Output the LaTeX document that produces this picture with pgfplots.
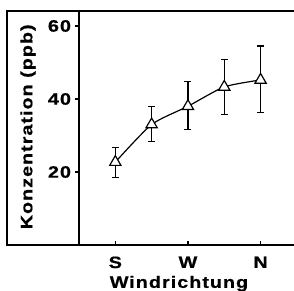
\documentclass[border=0pt]{standalone}
\usepackage{fontspec}
\usepackage{pgfplots}
\usepackage{pgfplotstable}
\pgfplotsset{compat=1.18}
\newfontfamily\lab[FakeStretch=1.2,LetterSpace=6,FakeBold=0.6]{Liberation Sans}
\newcommand{\labfont}{\lab\bfseries\fontsize{16.5}{19}\selectfont}
\pgfplotstableread{
x y ep em
1 22.7 4.1 4.2
2 33.0 5.0 4.6
3 38.0 6.7 6.3
4 43.3 7.5 7.6
5 45.2 9.3 9.0
}\konz
\begin{document}
\begin{tikzpicture}
\useasboundingbox (0,0) rectangle (294pt,291pt);
\begin{axis}[
  at={(79pt,46pt)}, anchor=south west,
  scale only axis, width=215pt, height=234pt,
  xmin=0, xmax=5.92, ymin=0, ymax=64.1,
  axis x line*=bottom, axis y line*=left,
  axis line style={line width=1.3pt,-},
  clip=false,
  xtick={1,3,5}, xticklabels={S,W,N},
  ytick={20,40,60},
  tick align=inside,
  major tick length=4pt,
  tick style={line width=1.1pt,black},
  ytick style={xshift=-4pt},
  /pgf/number format/assume math mode=true,
  tick label style={font=\labfont},
  xticklabel style={yshift=-8pt},
  yticklabel style={xshift=-4.5pt},
  ylabel={Konzentration (ppb)},
  xlabel={Windrichtung},
  label style={font=\labfont},
  ylabel style={at={(axis description cs:-0.237,0.505)}, anchor=center, rotate=0},
  xlabel style={at={(axis description cs:0.465,-0.165)}, anchor=center},
]
\addplot+[black, line width=1.2pt, smooth, tension=0.4,
  mark=triangle*, mark size=6.5pt,
  mark options={fill=white, draw=black, line width=1.2pt, solid},
  error bars/.cd, y dir=both, y explicit,
  error bar style={line width=1.3pt, black},
  error mark options={rotate=90, mark size=3.5pt, line width=1.3pt, black}]
  table[x=x, y=y, y error plus=ep, y error minus=em] {\konz};
\end{axis}
\draw[line width=1.3pt] (294pt,280pt) -- (7pt,280pt) -- (7pt,46pt) -- (294pt,46pt);
\end{tikzpicture}
\end{document}
